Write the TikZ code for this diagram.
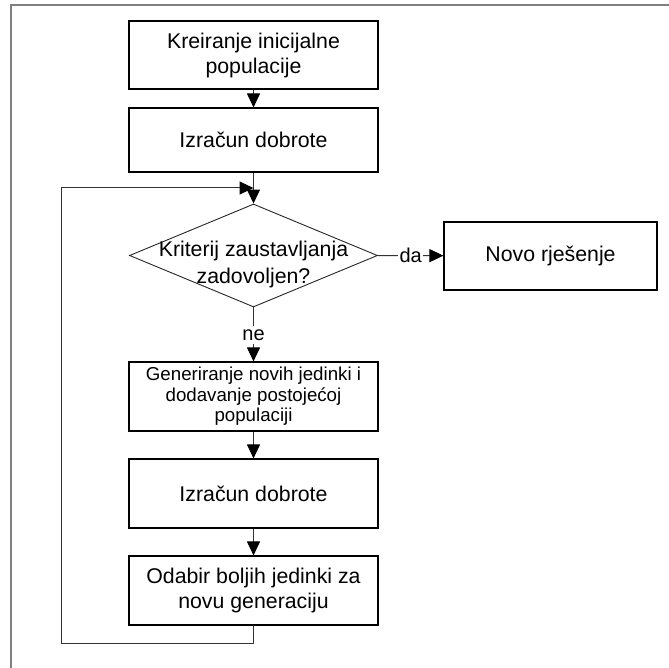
\documentclass[tikz,border=0pt]{standalone}
\usepackage{fontspec}
\setmainfont{Liberation Sans}
\usetikzlibrary{shapes.geometric,arrows.meta}
\begin{document}
\begin{tikzpicture}[x=1pt,y=-1pt,
  box/.style={draw=black, line width=1.1pt, rectangle, minimum width=249pt, inner sep=0pt, align=center, font=\fontsize{21.3}{25}\selectfont},
  conn/.style={draw=black!80, line width=1pt},
  arr/.style={conn, -{Triangle[length=14pt,width=13pt,color=black]}},
  lbl/.style={fill=white, inner xsep=1.5pt, inner ysep=4pt, font=\fontsize{20}{24}\selectfont}]
\useasboundingbox (0,0) rectangle (669,668);
\draw[gray, line width=1.6pt] (669,5) -- (11,5) -- (11,668);

\node[box, minimum height=68pt] (b1) at (253.5,55) {Kreiranje inicijalne\\populacije};
\node[box, minimum height=64pt] (b2) at (253.5,140) {Izračun dobrote};
\node[draw=black!85, line width=0.9pt, diamond, minimum width=248pt, minimum height=103pt, inner sep=0pt] (d) at (253.5,255.5) {};
\node[align=center, inner sep=0pt, font=\fontsize{21.3}{27}\selectfont] (dt) at (253.5,264) {Kriterij zaustavljanja\\zadovoljen?};
\node[box, minimum width=213pt, minimum height=68pt] (b3) at (550.5,256) {Novo rješenje};
\node[box, minimum height=69pt, font=\fontsize{18.7}{20.5}\selectfont] (b4) at (253.5,396.5) {Generiranje novih jedinki i\\dodavanje postojećoj\\populaciji};
\node[box, minimum height=69pt] (b5) at (253.5,493.5) {Izračun dobrote};
\node[box, minimum height=69pt] (b6) at (253.5,590.5) {Odabir boljih jedinki za\\novu generaciju};

\coordinate (lb) at (61,643);
\coordinate (lt) at (61,188);

\draw[arr] (b1) -- (b2);
\draw[arr] (b2) -- (d.north);
\draw[arr] (d.east) -- node[lbl] {da} (b3);
\draw[arr] (d.south) -- node[lbl, pos=0.51] {ne} (b4);
\draw[arr] (b4) -- (b5);
\draw[arr] (b5) -- (b6);
\draw[arr] (b6.south) -- (b6.south |- lb) -- (lb) -- (lt) -- (b2.south |- lt);
\end{tikzpicture}
\end{document}
